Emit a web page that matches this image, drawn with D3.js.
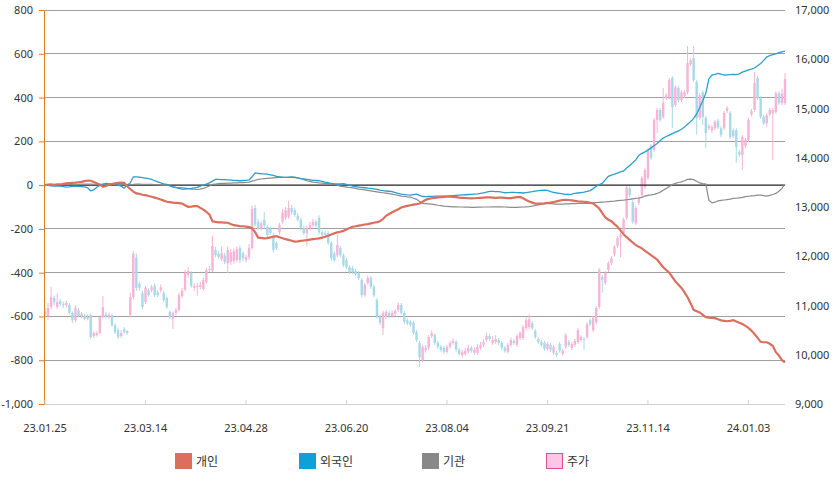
<!DOCTYPE html>
<html><head><meta charset="utf-8">
<script src="https://cdn.jsdelivr.net/npm/d3@7"></script>
<style>
html,body{margin:0;padding:0;background:#fff;}
svg{display:block;}
text{font-family:"Noto Sans","Liberation Sans",sans-serif;}
.leg text{font-family:"Noto Sans CJK KR","Noto Sans",sans-serif;}
</style></head>
<body>
<svg id="chart" width="837" height="482"></svg>
<script>
const tickLabels = ["23.01.25","23.03.14","23.04.28","23.06.20","23.08.04","23.09.21","23.11.14","24.01.03"];
const tickIndex = [0,33,66,99,132,165,198,231];
const seriesNames = ["개인","외국인","기관","주가"];

const individual = [0,2,3,1,4,3,6,8,9,10, 11,13,15,18,21,20,14,8,2,-8, -4,2,5,8,10,11,10,-5,-18,-30,
-38,-40,-44,-46,-50,-53,-57,-61,-66,-71, -76,-78,-80,-81,-82,-84,-92,-99,-98,-96,
-96,-104,-112,-122,-135,-165,-168,-170,-170,-171, -172,-178,-183,-185,-187,-188,-190,-192,-197,-215,
-240,-241,-243,-242,-239,-236,-233,-238,-243,-247, -250,-254,-258,-257,-255,-253,-251,-249,-247,-245,
-243,-240,-236,-231,-226,-220,-216,-213,-209,-203, -196,-190,-188,-185,-183,-180,-178,-175,-172,-169,
-165,-155,-140,-132,-124,-117,-110,-102,-98,-95, -92,-89,-87,-84,-76,-67,-63,-60,-58,-56,
-55,-54,-53,-53,-54,-55,-57,-58,-59,-60, -61,-60,-59,-58,-57,-56,-56,-57,-58,-57,
-57,-58,-59,-59,-57,-55,-54,-60,-68,-75, -80,-85,-85,-84,-83,-81,-80,-77,-74,-71,
-68,-67,-68,-70,-72,-74,-75,-76,-78,-81, -84,-95,-107,-128,-148,-158,-165,-178,-190,-208,
-225,-238,-250,-262,-274,-282,-289,-300,-310,-320, -330,-340,-358,-375,-388,-400,-420,-440,-455,-470,
-490,-512,-540,-570,-576,-582,-593,-603,-605,-607, -608,-613,-618,-620,-622,-620,-617,-623,-629,-635,
-643,-652,-665,-680,-698,-716,-718,-718,-725,-735, -763,-778,-800,-810];

const foreign = [0,-1,-3,-4,-5,-5,-7,-9,-8,-6, -5,-6,-7,-8,-12,-26,-22,-10,-2,4, 8,7,6,5,0,-5,-14,0,10,38,
38,36,34,32,30,26,20,15,10,6, 3,-3,-8,-12,-15,-18,-18,-16,-15,-13,
-10,-5,0,5,10,18,26,26,25,25, 24,23,22,21,20,21,22,24,38,56,
54,52,51,50,47,44,40,38,36,35, 36,38,36,33,30,28,26,24,22,21,
20,17,14,11,8,6,5,6,7,3, -1,-5,-7,-9,-11,-12,-14,-15,-17,-20,
-23,-25,-27,-28,-30,-34,-38,-41,-43,-45, -46,-43,-41,-47,-52,-53,-52,-51,-50,-50,
-50,-50,-50,-49,-48,-47,-46,-45,-44,-43, -42,-41,-40,-38,-35,-32,-29,-29,-30,-30,
-32,-35,-34,-33,-33,-34,-35,-36,-34,-32, -30,-27,-25,-24,-23,-24,-30,-33,-36,-38,
-40,-42,-43,-41,-38,-36,-34,-32,-29,-25, -16,-5,2,8,25,40,46,50,55,60,
65,78,90,102,115,137,145,152,160,170, 180,190,203,215,222,228,235,242,248,255,
265,278,290,305,325,355,385,420,485,503, 506,510,507,503,504,505,506,505,508,516,
521,526,530,535,545,555,570,585,592,596, 600,605,609,612];

const institution = [0,0,1,1,2,2,2,3,3,4, 4,4,5,5,5,5,4,4,3,3, 3,3,2,2,3,3,2,2,2,3,
5,5,4,4,3,3,2,2,1,0, 0,-4,-8,-10,-11,-12,-14,-16,-18,-19,
-20,-18,-15,-10,-4,3,5,7,8,8, 9,9,10,10,11,11,12,14,18,22,
26,28,30,31,32,33,34,35,35,35, 35,35,34,33,30,25,20,17,14,12,
10,9,8,7,5,3,0,-5,-7,-9, -11,-13,-15,-18,-20,-22,-24,-26,-29,-31,
-33,-35,-37,-39,-41,-44,-47,-50,-52,-54, -55,-60,-65,-75,-84,-85,-86,-87,-89,-92,
-94,-96,-97,-98,-99,-99,-100,-100,-101,-101, -102,-102,-101,-101,-100,-100,-100,-99,-99,-99,
-99,-100,-101,-102,-102,-102,-101,-100,-99,-98, -96,-93,-90,-88,-86,-84,-85,-86,-87,-87,
-87,-86,-86,-85,-85,-84,-84,-83,-83,-82, -81,-80,-79,-78,-77,-75,-74,-73,-71,-70,
-69,-67,-65,-63,-61,-59,-56,-50,-47,-45, -42,-38,-32,-23,-15,-6,3,8,12,15,
20,26,27,25,18,10,7,5,-69,-81, -78,-72,-70,-68,-66,-64,-61,-60,-58,-56,
-53,-51,-49,-48,-46,-46,-48,-50,-47,-43, -38,-28,-15,5];

const priceOpen = [10800,10790,10970,11150,10970,11090,11030,11010,11010,10850,
10700,10900,10780,10790,10730,10810,10380,10400,10440,10770,
10820,10770,10800,10600,10500,10380,10520,10480,10810,11170,
11970,11440,11250,11070,11310,11310,11400,11270,11310,11250,
11150,10870,10730,10850,10910,11190,11320,11620,11660,11360,
11380,11380,11340,11480,11720,11700,12130,12050,11940,12020,
11860,11880,11900,11920,12170,12060,11920,11980,12170,12980,
12700,12560,12740,12600,12560,12430,12270,12490,12700,12780,
12800,12980,12940,12820,12740,12570,12470,12570,12630,12700,
12780,12490,12470,12470,12270,12060,12020,12170,12020,11920,
11780,11760,11700,11660,11520,11210,11460,11560,11380,11110,
10770,10540,10770,10850,10790,10830,10910,11010,10850,10700,
10670,10650,10460,10240,9890,10100,10140,10380,10400,10240,
10160,10140,10060,10160,10240,10260,10100,9990,10020,10060,
10140,10040,10040,10140,10200,10300,10380,10240,10260,10300,
10240,10140,10060,10200,10280,10200,10340,10340,10540,10560,
10640,10480,10320,10260,10240,10120,10200,10040,10040,10220,
10020,10160,10260,10140,10200,10260,10300,10320,10360,10700,
10500,10660,10970,11580,11460,11720,11860,12040,12210,12370,
12470,12780,13380,13100,12670,13080,13240,13400,13590,14240,
14160,14770,14970,14830,15210,15230,15620,15070,15420,15170,
15250,15330,15900,16020,15540,14810,15330,14810,14600,14560,
14600,14750,14600,14600,14950,14910,14560,14560,14120,14060,
14240,14360,14880,14970,15620,15210,14830,14700,14880,14900,
14930,15310,15110,15110];

const priceClose = [10880,10950,11170,11070,11070,11030,11010,11050,10850,10700,
10950,10790,10830,10730,10770,10360,10440,10440,10770,10970,
10770,10810,10600,10460,10360,10440,10460,10440,11170,12050,
11360,11360,10970,11360,11210,11370,11210,11210,11370,11110,
10970,10770,10850,10910,11210,11300,11660,11700,11400,11400,
11400,11420,11520,11720,11740,12210,12020,11990,12060,11880,
12130,12080,12100,12140,11920,11960,11980,12170,12960,12640,
12560,12670,12620,12430,12470,12130,12170,12630,12880,12940,
12980,12900,12840,12740,12570,12470,12570,12630,12700,12620,
12490,12430,12430,12270,11960,11920,12230,12020,11820,11780,
11680,11680,11640,11560,11210,11420,11560,11380,11210,10770,
10650,10850,10870,10790,10850,10890,11010,10850,10670,10640,
10610,10440,10300,9950,10160,10140,10360,10440,10240,10160,
10100,10060,10160,10240,10280,10100,10020,10050,10080,10140,
10080,10100,10160,10200,10260,10380,10320,10300,10320,10240,
10140,10080,10200,10300,10240,10380,10440,10560,10700,10720,
10540,10360,10260,10200,10120,10220,10100,10160,10000,10080,
10080,10400,10200,10220,10280,10500,10360,10300,10620,10620,
10750,10950,11720,11520,11660,11860,11960,12190,12370,12440,
12740,13400,13240,12700,12980,13180,13590,13750,14160,14000,
14770,14970,14770,15110,15270,15580,15030,15430,15170,15330,
15330,15920,15980,15580,14810,15270,14830,14500,14640,14620,
14730,14620,14460,14910,15010,14420,14440,14220,14060,14420,
14360,14770,14950,15520,15210,14830,14700,14860,14970,14970,
15310,15110,15300,15600];

const priceHigh = [10950,11050,11380,11200,11250,11130,11080,11100,11050,10880,
11000,10950,10870,10830,10820,10840,10470,10480,10800,11190,
10870,10860,10830,10640,10540,10500,10560,10500,11260,12100,
12050,11480,11300,11400,11350,11420,11450,11310,11430,11300,
11180,10900,10880,10950,11260,11360,11720,11780,11700,11450,
11460,11480,11560,11760,11800,12420,12190,12100,12200,12070,
12200,12150,12160,12200,12220,12100,12030,12250,13030,13040,
12760,12720,12900,12640,12600,12470,12300,12680,12960,13000,
13130,13040,12990,12880,12780,12620,12620,12700,12760,12740,
12830,12530,12510,12510,12310,12100,12450,12210,12060,11960,
11820,11800,11740,11700,11560,11460,11610,11600,11420,11150,
10810,10900,10920,10890,10900,10930,11060,11050,10890,10740,
10700,10690,10500,10280,10200,10200,10400,10500,10440,10280,
10200,10180,10200,10280,10330,10300,10140,10100,10130,10200,
10180,10150,10220,10260,10320,10450,10420,10380,10400,10340,
10280,10180,10240,10350,10320,10420,10480,10600,10760,10820,
10680,10520,10360,10300,10280,10260,10240,10200,10080,10260,
10120,10440,10300,10260,10320,10540,10400,10360,10660,10740,
10790,10990,11760,11620,11700,11900,12000,12230,12410,12480,
12780,13440,13420,13140,13020,13220,13630,13790,14200,14280,
14810,15010,15010,15420,15310,15620,15660,15470,15460,15370,
15370,16270,16020,16270,15580,15310,15370,14850,14680,14660,
14770,14790,14640,14950,15050,14950,14600,14600,14160,14460,
14400,14810,14990,15740,15660,15250,14870,14900,15010,15010,
15350,15350,15400,15720];

const priceLow = [10750,10700,10930,11000,10930,10980,10950,10960,10820,10650,
10660,10760,10740,10700,10700,10320,10340,10370,10420,10740,
10730,10720,10570,10420,10320,10340,10430,10410,10760,11120,
11300,11300,10920,11030,11180,11270,11170,11170,11260,11070,
10930,10730,10520,10800,10880,11150,11290,11560,11360,11300,
11200,11330,11300,11440,11680,11680,11980,11950,11900,11840,
11660,11820,11850,11880,11860,11900,11880,11930,12130,12600,
12520,12520,12560,12380,12430,12080,12120,12440,12660,12740,
12760,12840,12800,12700,12530,12430,12200,12520,12590,12580,
12440,12390,12390,12230,11900,11880,11980,11980,11780,11740,
11640,11640,11600,11520,11170,11180,11420,11340,11170,10730,
10600,10400,10730,10750,10750,10790,10870,10810,10630,10600,
10570,10400,10260,9750,9850,10040,10100,10340,10200,10120,
10060,10020,10020,10120,10200,10060,9980,9950,9980,10020,
10040,10000,10000,10100,10160,10260,10280,10200,10220,10200,
10100,10040,10020,10160,10200,10160,10300,10300,10500,10520,
10500,10320,10220,10160,10080,10080,10060,10000,9960,10040,
9980,10120,10160,10100,10160,10220,10260,10100,10320,10580,
10460,10620,10930,11260,11420,11680,11820,12000,12170,11980,
12430,12740,13200,12660,12630,13040,13200,13360,13550,13960,
14120,14500,14730,14790,15170,15190,14600,15030,15130,15130,
15210,15290,15860,15540,14470,14770,14670,14200,14560,14500,
14560,14580,14420,14560,14910,14380,14400,13900,14020,13750,
14200,14320,14840,14930,15170,14790,14660,14620,14840,13950,
14890,15070,15070,15070];

const leftTicks = [-1000,-800,-600,-400,-200,0,200,400,600,800];
const rightTicks = [9000,10000,11000,12000,13000,14000,15000,16000,17000];

const colors = {ind:"#dc6e5e", frn:"#2a9fcc", inst:"#8c8c8c", up:"#f6b4d6", down:"#a8d9e8"};

const svg = d3.select("#chart");
const N = priceClose.length;
const x = d3.scaleLinear().domain([0, N-1]).range([45, 785]);
const yL = d3.scaleLinear().domain([-1000, 800]).range([404, 10]);
const yR = d3.scaleLinear().domain([9000, 17000]).range([404, 10]);
const fmt = v => v.toLocaleString("en-US");

// grid
svg.append("g").selectAll("line").data(leftTicks.filter(d => d !== -1000 && d !== 0)).join("line")
  .attr("x1", 45).attr("x2", 785).attr("y1", d => yL(d)).attr("y2", d => yL(d))
  .attr("stroke", "#a0a0a0").attr("stroke-width", 1).attr("shape-rendering", "crispEdges");
// bottom axis line
svg.append("line").attr("x1", 45).attr("x2", 785).attr("y1", yL(-1000)).attr("y2", yL(-1000))
  .attr("stroke", "#d0d0d0").attr("shape-rendering", "crispEdges");

// candles
const idx = d3.range(N);
const cg = svg.append("g");
cg.selectAll("line.wick").data(idx).join("line").attr("class","wick")
  .attr("x1", i => x(i)).attr("x2", i => x(i))
  .attr("y1", i => yR(priceHigh[i])).attr("y2", i => yR(priceLow[i]))
  .attr("stroke", i => priceClose[i] >= priceOpen[i] ? colors.up : colors.down).attr("stroke-width", 1);
cg.selectAll("rect").data(idx).join("rect")
  .attr("x", i => x(i) - 1.2).attr("width", 2.4)
  .attr("y", i => yR(Math.max(priceOpen[i], priceClose[i])))
  .attr("height", i => Math.max(1, Math.abs(yR(priceOpen[i]) - yR(priceClose[i]))))
  .attr("fill", i => priceClose[i] >= priceOpen[i] ? colors.up : colors.down);

// zero line
svg.append("line").attr("x1", 45).attr("x2", 785).attr("y1", yL(0)).attr("y2", yL(0))
  .attr("stroke", "#222").attr("stroke-width", 1.3);

// lines
const line = arr => d3.line().x((d, i) => x(i)).y(d => yL(d))(arr);
svg.append("path").attr("d", line(institution)).attr("fill","none").attr("stroke", colors.inst).attr("stroke-width", 1.2);
svg.append("path").attr("d", line(foreign)).attr("fill","none").attr("stroke", colors.frn).attr("stroke-width", 1.3);
svg.append("path").attr("d", line(individual)).attr("fill","none").attr("stroke", colors.ind).attr("stroke-width", 2.2);

// left axis
const gL = svg.append("g").attr("transform", "translate(44,0)")
  .call(d3.axisLeft(yL).tickValues(leftTicks).tickFormat(fmt).tickSize(5).tickPadding(6));
gL.select(".domain").attr("stroke", "#e07b1f");
gL.selectAll(".tick line").attr("stroke", "#e07b1f");
gL.selectAll("text").attr("fill", "#333").style("font-size", "11px");

// right axis
const gR = svg.append("g").attr("transform", "translate(785,0)")
  .call(d3.axisRight(yR).tickValues(rightTicks).tickFormat(fmt).tickSize(0).tickPadding(10));
gR.select(".domain").remove();
gR.selectAll("text").attr("fill", "#333").style("font-size", "11px");

// bottom axis
const gB = svg.append("g").attr("transform", "translate(0,404)");
gB.selectAll("line").data(tickIndex).join("line")
  .attr("x1", i => x(i)).attr("x2", i => x(i)).attr("y1", -4).attr("y2", 0)
  .attr("stroke", "#d0d0d0");
gB.selectAll("text").data(tickIndex).join("text")
  .attr("x", i => x(i)).attr("y", 28).attr("text-anchor", "middle")
  .attr("fill", "#333").style("font-size", "11px").text((d, k) => tickLabels[k]);

// legend
const legX = [175, 299, 422, 546];
const legFill = [colors.ind, "#0fa0d8", "#888888", "#fcc6e4"];
const legStroke = [null, null, null, "#d9509c"];
const lg = svg.append("g").attr("class", "leg");
seriesNames.forEach((name, k) => {
  lg.append("rect").attr("x", legX[k] + (legStroke[k] ? 0.5 : 0)).attr("y", 453 + (legStroke[k] ? 0.5 : 0))
    .attr("width", legStroke[k] ? 16 : 17).attr("height", legStroke[k] ? 15 : 16)
    .attr("fill", legFill[k]).attr("stroke", legStroke[k] || "none");
  lg.append("text").attr("x", legX[k] + 21).attr("y", 465.5).attr("fill", "#333")
    .style("font-size", "12px").text(name);
});
</script>
</body></html>
